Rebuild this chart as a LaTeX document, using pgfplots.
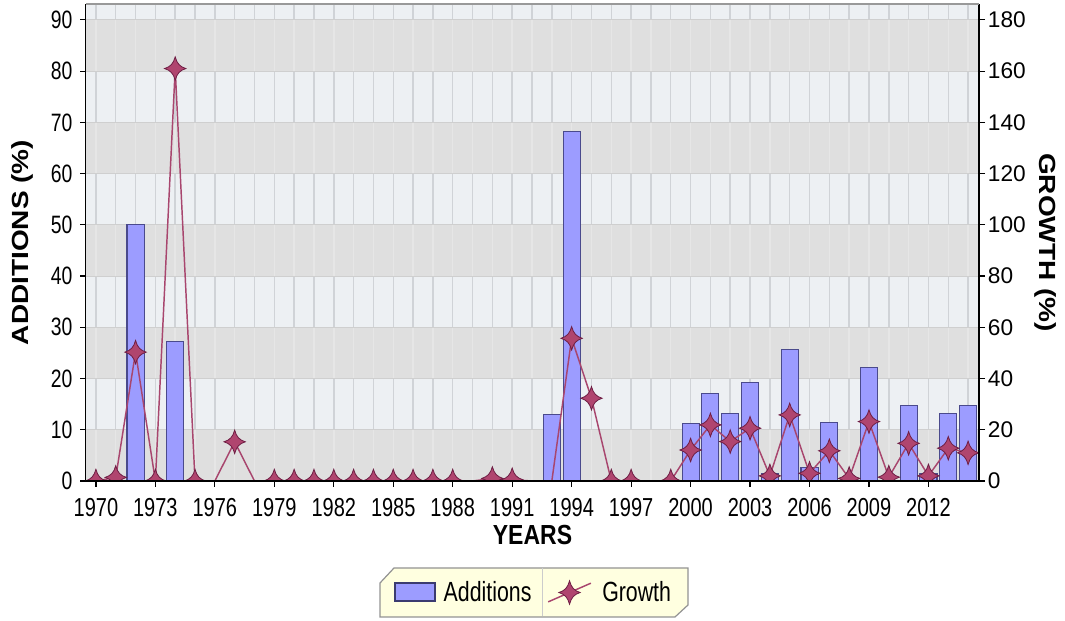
\documentclass[border=0pt]{standalone}
\usepackage{fontspec}
\setmainfont{Liberation Sans}
\usepackage{graphicx}
\usepackage{pgfplots}
\pgfplotsset{compat=1.18}

\definecolor{barfill}{HTML}{9C9CFF}
\definecolor{baredge}{HTML}{4A4A8C}
\definecolor{gline}{HTML}{A8466E}
\definecolor{gfill}{HTML}{B0456F}
\definecolor{gedge}{HTML}{6E1E44}
\definecolor{bandA}{HTML}{DFDFDF}
\definecolor{bandB}{HTML}{EDF0F3}
\definecolor{vgridB}{HTML}{D0D3D7}
\definecolor{vgridA}{HTML}{E6E6E6}
\definecolor{hgrid}{HTML}{CFCFCF}
\definecolor{legfill}{HTML}{FFFFE0}

\pgfdeclareplotmark{fourstar}{%
  \pgfpathmoveto{\pgfqpoint{0pt}{1.1\pgfplotmarksize}}%
  \pgfpathcurveto{\pgfqpoint{0.17\pgfplotmarksize}{0.45\pgfplotmarksize}}{\pgfqpoint{0.45\pgfplotmarksize}{0.17\pgfplotmarksize}}{\pgfqpoint{\pgfplotmarksize}{0pt}}%
  \pgfpathcurveto{\pgfqpoint{0.45\pgfplotmarksize}{-0.17\pgfplotmarksize}}{\pgfqpoint{0.17\pgfplotmarksize}{-0.45\pgfplotmarksize}}{\pgfqpoint{0pt}{-1.1\pgfplotmarksize}}%
  \pgfpathcurveto{\pgfqpoint{-0.17\pgfplotmarksize}{-0.45\pgfplotmarksize}}{\pgfqpoint{-0.45\pgfplotmarksize}{-0.17\pgfplotmarksize}}{\pgfqpoint{-\pgfplotmarksize}{0pt}}%
  \pgfpathcurveto{\pgfqpoint{-0.45\pgfplotmarksize}{0.17\pgfplotmarksize}}{\pgfqpoint{-0.17\pgfplotmarksize}{0.45\pgfplotmarksize}}{\pgfqpoint{0pt}{1.1\pgfplotmarksize}}%
  \pgfpathclose
  \pgfusepathqfillstroke}

\pgfplotsset{
  growthlegend/.style={legend image code/.code={%
     \draw[gline, line width=1.1pt] (0pt,-7pt) -- (32pt,7pt);
     \draw[mark=fourstar, mark size=8pt, mark options={fill=gfill, draw=gedge, line width=0.6pt, solid}] plot coordinates {(16pt,0pt)};}},
  barlegend/.style={legend image code/.code={%
     \draw[fill=barfill, draw=baredge!80!black, line width=1.3pt] (0pt,-6.5pt) rectangle (30pt,7pt);}},
}

\pgfplotstableread{
year add
1972 50.1
1974 27.2
1993 12.9
1994 68.2
2000 11.2
2001 17.0
2002 13.2
2003 19.3
2004 1.5
2005 25.7
2006 2.6
2007 11.5
2009 22.2
2011 14.7
2012 1.5
2013 13.2
2014 14.8
}\additions

\pgfplotstableread{
year g
1970 0
1971 1.4
1972 50.3
1973 0
1974 161
1975 0
1976 0
1977 15.3
1978 0
1979 0
1980 0
1981 0
1982 0
1983 0
1984 0
1985 0
1986 0
1987 0
1988 0
1989 0
1990 1
1991 0.5
1992 0
1993 0
1994 55.7
1995 32.3
1996 0
1997 0
1998 0
1999 0
2000 12.1
2001 21.9
2002 15.4
2003 20.6
2004 2
2005 25.8
2006 3
2007 11.8
2008 1
2009 23.2
2010 1.5
2011 14.7
2012 2
2013 12.8
2014 11
}\growthline

\pgfplotstableread{
year g
1970 0
1971 1.4
1972 50.3
1973 0
1974 161
1975 0
1977 15.3
1979 0
1980 0
1981 0
1982 0
1983 0
1984 0
1985 0
1986 0
1987 0
1988 0
1990 1
1991 0.5
1994 55.7
1995 32.3
1996 0
1997 0
1999 0
2000 12.1
2001 21.9
2002 15.4
2003 20.6
2004 2
2005 25.8
2006 3
2007 11.8
2008 1
2009 23.2
2010 1.5
2011 14.7
2012 2
2013 12.8
2014 11
}\growthmarks

\begin{document}
\begin{tikzpicture}
\path[use as bounding box] (-64.5pt,-105pt) rectangle (734.25pt,360.75pt);
\begin{axis}[
  at={(0pt,0pt)}, anchor=south west,
  scale only axis, width=669.75pt, height=357.75pt,
  xmin=1969.5, xmax=2014.55, ymin=0, ymax=93.1,
  axis x line*=bottom, axis y line*=left,
  axis line style={-, black, line width=1.3pt},
  xtick={1970,1973,...,2012},
  ytick={0,10,...,90},
  tick align=outside, major tick length=4.5pt,
  tick style={black, line width=0.9pt},
  /pgf/number format/assume math mode=true,
  /pgf/number format/1000 sep={},
  xticklabel={\scalebox{1}[1.3]{\pgfmathprintnumber{\tick}}},
  yticklabel={\scalebox{1}[1.3]{\pgfmathprintnumber{\tick}}},
  xticklabel style={font=\fontsize{15}{15}\selectfont, inner sep=2pt, yshift=-6pt},
  yticklabel style={font=\fontsize{14.5}{14.5}\selectfont, inner sep=2pt, xshift=-3.5pt},
  xlabel={\scalebox{1}[1.2]{\bfseries YEARS}},
  ylabel={\scalebox{1.2}[1]{\bfseries ADDITIONS (\%)}},
  xlabel style={at={(axis description cs:0.5,-0.113)}, anchor=center, font=\fontsize{17.25}{17}\selectfont},
  ylabel style={at={(axis description cs:-0.0717,0.5)}, anchor=center, font=\fontsize{17.5}{17}\selectfont},
]
\fill[bandB] (rel axis cs:0,0) rectangle (rel axis cs:1,1);
\fill[bandA] (axis cs:1969.5,0) rectangle (axis cs:2014.55,10);
\fill[bandA] (axis cs:1969.5,20) rectangle (axis cs:2014.55,30);
\fill[bandA] (axis cs:1969.5,40) rectangle (axis cs:2014.55,50);
\fill[bandA] (axis cs:1969.5,60) rectangle (axis cs:2014.55,70);
\fill[bandA] (axis cs:1969.5,80) rectangle (axis cs:2014.55,90);
\pgfplotsinvokeforeach{1970,1971,...,2014}{
  \draw[vgridB, line width=1.1pt] (axis cs:#1,10) -- (axis cs:#1,20) (axis cs:#1,30) -- (axis cs:#1,40) (axis cs:#1,50) -- (axis cs:#1,60) (axis cs:#1,70) -- (axis cs:#1,80) (axis cs:#1,90) -- (axis cs:#1,93.1);
  \draw[vgridA, line width=1.1pt] (axis cs:#1,0) -- (axis cs:#1,10) (axis cs:#1,20) -- (axis cs:#1,30) (axis cs:#1,40) -- (axis cs:#1,50) (axis cs:#1,60) -- (axis cs:#1,70) (axis cs:#1,80) -- (axis cs:#1,90);
}
\pgfplotsinvokeforeach{10,20,...,90}{
  \draw[hgrid, line width=0.7pt] (axis cs:1969.5,#1) -- (axis cs:2014.55,#1);
}
\addplot[ybar, bar width=0.86, bar shift=0pt, fill=barfill, draw=baredge, line width=0.8pt] table[x=year, y=add] {\additions};
\end{axis}
\filldraw[fill=legfill, draw=gray!85, line width=0.9pt] (231pt,-65.25pt) -- (451.5pt,-65.25pt) -- (451.5pt,-93pt) -- (441.75pt,-102pt) -- (220.5pt,-102pt) -- (220.5pt,-76.5pt) -- cycle;
\draw[gray!40, line width=0.7pt] (342pt,-65.5pt) -- (342pt,-101.5pt);
\begin{axis}[
  at={(0pt,0pt)}, anchor=south west,
  scale only axis, width=669.75pt, height=357.75pt,
  xmin=1969.5, xmax=2014.55, ymin=0, ymax=186.2,
  axis x line*=bottom, axis y line*=right,
  axis line style={-, black, line width=1.3pt},
  xtick=\empty,
  ytick={0,20,...,180},
  tick align=outside, major tick length=4.5pt,
  tick style={black, line width=0.9pt},
  /pgf/number format/assume math mode=true,
  yticklabel style={font=\fontsize{17}{17}\selectfont, inner sep=2pt},
  ylabel={\scalebox{1.2}[1]{\bfseries GROWTH (\%)}},
  ylabel style={at={(axis description cs:1.074,0.5)}, anchor=center, rotate=180, font=\fontsize{17.5}{17}\selectfont},
  axis on top,
  clip marker paths=true,
  legend columns=2,
  legend style={at={(axis description cs:0.5015,-0.2338)}, anchor=center,
    draw=none, fill=none, inner xsep=0pt, inner ysep=0pt,
    font=\fontsize{16}{16}\selectfont,
    /tikz/every even column/.append style={column sep=10pt},
    cells={anchor=west}},
]
\addlegendimage{barlegend}
\addlegendentry{\hspace{4pt}\scalebox{1}[1.3]{Additions}}
\addplot[gline, line width=1.1pt, forget plot] table[x=year, y=g] {\growthline};
\addplot[only marks, mark=fourstar, mark size=8pt,
  mark options={fill=gfill, draw=gedge, line width=0.6pt, solid}, growthlegend] table[x=year, y=g] {\growthmarks};
\addlegendentry{\hspace{6pt}\scalebox{1}[1.3]{Growth}}
\end{axis}
\draw[gray!80, line width=1.2pt] (0pt,357.75pt) -- (669.75pt,357.75pt);
\end{tikzpicture}
\end{document}
